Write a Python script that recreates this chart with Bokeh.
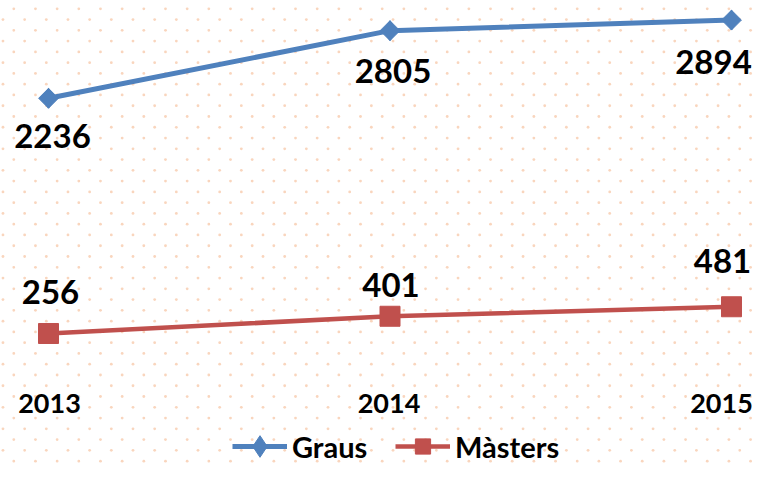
import numpy as np
from bokeh.plotting import figure
from bokeh.models import ColumnDataSource, Range1d, Legend, LegendItem
from bokeh.core.properties import value
from bokeh.embed import file_html
from bokeh.resources import INLINE

# ---- data ----
years = [2013, 2014, 2015]
year_labels = ["2013", "2014", "2015"]
graus = [2236, 2805, 2894]
masters = [256, 401, 481]

# ---- style (label offsets in screen px) ----
graus_label_dx = [4, 3, -18]
graus_label_dy = [38, 40, 42]
masters_label_dx = [2, 1, -9]
masters_label_dy = [-41, -31, -46]
year_label_dx = [1, -1, -10]

BLUE = "#4F81BD"
RED = "#C0504D"
FONT = "Lato"

W, H = 755, 466
X0, X1 = 2012.8594, 2015.0703
Y0, Y1 = -863.6, 3058.9

p = figure(width=W, height=H, output_backend="svg", toolbar_location=None,
           x_range=Range1d(X0, X1), y_range=Range1d(Y0, Y1),
           x_axis_type=None, y_axis_type=None, min_border=0,
           outline_line_color=None, background_fill_color="white",
           border_fill_color="white")
p.grid.visible = False

# background dotted texture (staggered lattice, decoration only)
pts_x, pts_y = [], []
for k in range(0, 45):
    py = 8.3 + 10.77 * k
    off = -10.83 if k % 2 else 0.0
    pxs = np.arange(13.3 + off, W + 22, 21.67)
    pts_x.extend(X0 + pxs / W * (X1 - X0))
    pts_y.extend([Y1 - py / H * (Y1 - Y0)] * len(pxs))
p.scatter(pts_x, pts_y, marker="circle", size=2.8, fill_color="#F8CBAD",
          line_color=None, fill_alpha=0.8)

src_g = ColumnDataSource(dict(x=years, y=graus, lab=[str(v) for v in graus],
                              dx=graus_label_dx, dy=graus_label_dy))
src_m = ColumnDataSource(dict(x=years, y=masters, lab=[str(v) for v in masters],
                              dx=masters_label_dx, dy=masters_label_dy))
src_y = ColumnDataSource(dict(x=years, y=[0] * len(years), lab=year_labels, dx=year_label_dx))

gl = p.line("x", "y", source=src_g, line_color=BLUE, line_width=5)
# diamond glyph (used for the legend sample); fully covered by the rotated squares
gd = p.scatter("x", "y", source=src_g, marker="diamond", size=20,
               fill_color=BLUE, line_color=BLUE)
gp = p.scatter("x", "y", source=src_g, marker="square", angle=np.pi / 4, size=14,
               fill_color=BLUE, line_color=BLUE)
ml = p.line("x", "y", source=src_m, line_color=RED, line_width=4.5)
mp = p.scatter("x", "y", source=src_m, marker="square", size=20,
               fill_color=RED, line_color=RED)

common = dict(text_font=value(FONT), text_font_style="bold", text_color="black",
              text_align="center", text_baseline="alphabetic")
p.text("x", "y", text="lab", source=src_g, x_offset="dx", y_offset="dy",
       text_font_size="33px", **common)
p.text("x", "y", text="lab", source=src_m, x_offset="dx", y_offset="dy",
       text_font_size="33px", **common)
p.text("x", "y", text="lab", source=src_y, x_offset="dx", y_offset=39.5,
       text_font_size="27px", **common)

leg_style = dict(orientation="horizontal", padding=0, margin=0, glyph_width=55,
                 label_standoff=5, border_line_color=None, background_fill_alpha=0,
                 label_text_font=FONT, label_text_font_style="bold",
                 label_text_font_size="29px", label_text_color="black")
leg1 = Legend(items=[LegendItem(label="Graus", renderers=[gl, gd])],
              location=(232, -7), glyph_height=54, **leg_style)
leg2 = Legend(items=[LegendItem(label="Màsters", renderers=[ml, mp])],
              location=(395, 1), glyph_height=38, **leg_style)
p.add_layout(leg1)
p.add_layout(leg2)

open("out.html", "w").write(file_html(p, INLINE))
